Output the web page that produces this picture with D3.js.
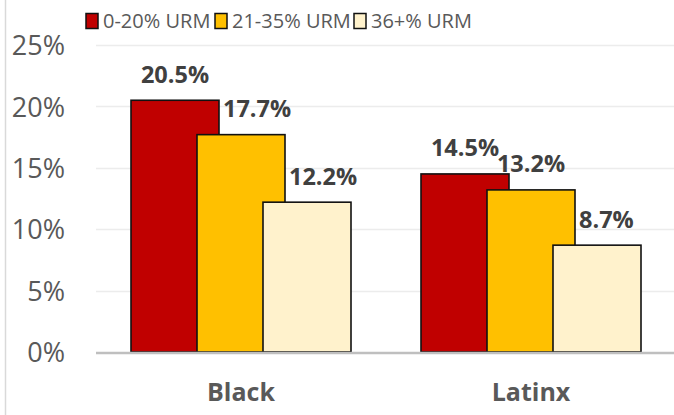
<!DOCTYPE html>
<html>
<head>
<meta charset="utf-8">
<script src="https://cdn.jsdelivr.net/npm/d3@7"></script>
<style>
  html, body { margin: 0; padding: 0; background: #fff; }
  svg { display: block; }
</style>
</head>
<body>
<div id="chart"></div>
<script>
(function () {
  'use strict';

  /* ---------- Data ---------- */
  const categories = ['Black', 'Latinx'];
  const seriesNames = ['0-20% URM', '21-35% URM', '36+% URM'];
  const seriesColors = ['#C00000', '#FFC000', '#FFF2CC'];
  const values = [
    [0.205, 0.145],   // 0-20% URM
    [0.177, 0.132],   // 21-35% URM
    [0.122, 0.087]    // 36+% URM
  ];
  const yTicks = [0, 0.05, 0.10, 0.15, 0.20, 0.25];

  /* ---------- Size ---------- */
  const W = 674, H = 415;
  const plot = { left: 96, right: 676, top: 45, bottom: 352 };
  const barW = 88;

  const svg = d3.select('#chart').append('svg')
    .attr('width', W)
    .attr('height', H);

  // chart frame edge on the left
  svg.append('line')
    .attr('x1', 5.5).attr('x2', 5.5)
    .attr('y1', 0).attr('y2', H)
    .attr('stroke', '#d9d9d9')
    .attr('stroke-width', 1.5);

  /* ---------- Scales ---------- */
  const x = d3.scaleBand().domain(categories).range([plot.left, plot.right]);
  const xSub = d3.scalePoint().domain(seriesNames).range([-66, 66]);
  const y = d3.scaleLinear().domain([0, 0.25]).range([plot.bottom, plot.top]);

  const fmt = d3.format('.0%');
  const fmtLabel = d3.format('.1%');

  /* ---------- Gridlines ---------- */
  svg.append('g')
    .selectAll('line')
    .data(yTicks.filter(t => t > 0))
    .join('line')
    .attr('x1', plot.left).attr('x2', plot.right)
    .attr('y1', d => Math.round(y(d)) + 0.5)
    .attr('y2', d => Math.round(y(d)) + 0.5)
    .attr('stroke', '#ececec')
    .attr('stroke-width', 1.5);

  /* ---------- Y axis labels ---------- */
  const yAxis = svg.append('g')
    .attr('transform', 'translate(65,0)')
    .call(d3.axisLeft(y).tickValues(yTicks).tickFormat(fmt).tickSize(0).tickPadding(0));
  yAxis.select('.domain').remove();
  yAxis.selectAll('text')
    .attr('fill', '#595959')
    .attr('font-family', "'Open Sans', sans-serif")
    .attr('font-size', '27px')
    .attr('dy', '0.36em');

  /* ---------- Bars ---------- */
  const rows = [];
  seriesNames.forEach((s, si) => {
    categories.forEach((c, ci) => {
      rows.push({ series: s, si, cat: c, value: values[si][ci] });
    });
  });

  const cx = d => x(d.cat) + x.bandwidth() / 2 + xSub(d.series);

  svg.append('g')
    .selectAll('rect')
    .data(rows)
    .join('rect')
    .attr('x', d => cx(d) - barW / 2)
    .attr('y', d => y(d.value))
    .attr('width', barW)
    .attr('height', d => y(0) - y(d.value))
    .attr('fill', d => seriesColors[d.si])
    .attr('stroke', '#111')
    .attr('stroke-width', 1.6);

  /* ---------- Baseline ---------- */
  svg.append('line')
    .attr('x1', plot.left).attr('x2', plot.right)
    .attr('y1', y(0) + 1).attr('y2', y(0) + 1)
    .attr('stroke', '#bfbfbf')
    .attr('stroke-width', 2.5);

  /* ---------- Data labels ---------- */
  const labels = svg.append('g')
    .selectAll('text')
    .data(rows)
    .join('text')
    .attr('x', d => cx(d))
    .attr('y', d => y(d.value) - 26)
    .attr('dy', '0.36em')
    .attr('text-anchor', 'middle')
    .attr('fill', '#404040')
    .attr('font-family', "'Open Sans', sans-serif")
    .attr('font-weight', 700)
    .attr('font-size', '23.5px')
    .text(d => fmtLabel(d.value));

  // nudge a label right when it would sit over the previous (taller) bar
  labels.each(function (d) {
    if (d.si === 0) return;
    const prev = rows.find(r => r.cat === d.cat && r.si === d.si - 1);
    const prevRight = cx(prev) + barW / 2;
    const prevTop = y(prev.value);
    const bb = this.getBBox();
    if (bb.y + bb.height - 10 > prevTop && bb.x < prevRight + 4) {
      d3.select(this).attr('x', prevRight + 4 + bb.width / 2);
    }
  });

  /* ---------- Category labels ---------- */
  svg.append('g')
    .selectAll('text')
    .data(categories)
    .join('text')
    .attr('x', d => x(d) + x.bandwidth() / 2)
    .attr('y', 392)
    .attr('dy', '0.36em')
    .attr('text-anchor', 'middle')
    .attr('fill', '#595959')
    .attr('font-family', "'Open Sans', sans-serif")
    .attr('font-weight', 700)
    .attr('font-size', '25px')
    .text(d => d);

  /* ---------- Legend ---------- */
  const legendX = [86, 215, 354];
  const legend = svg.append('g')
    .selectAll('g')
    .data(seriesNames)
    .join('g')
    .attr('transform', (d, i) => `translate(${legendX[i]},21)`);

  legend.append('rect')
    .attr('x', 0).attr('y', -7.5)
    .attr('width', 12).attr('height', 15)
    .attr('fill', (d, i) => seriesColors[i])
    .attr('stroke', '#111')
    .attr('stroke-width', 1.5);

  legend.append('text')
    .attr('x', 17)
    .attr('dy', '0.36em')
    .attr('fill', '#595959')
    .attr('font-family', "'Open Sans', sans-serif")
    .attr('font-size', '20px')
    .text(d => d);
})();
</script>
</body>
</html>
